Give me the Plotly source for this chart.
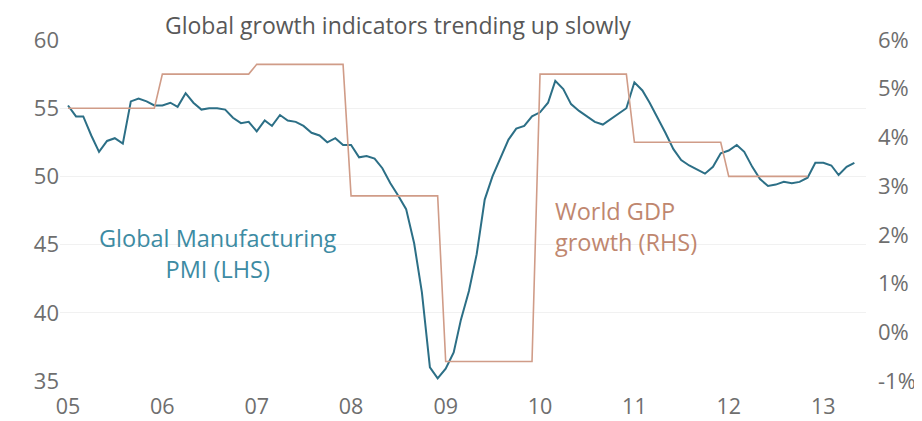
import plotly.graph_objects as go
import pandas as pd

# ---- data ----
pmi_start = "2005-01-01"
pmi_values = [
    55.2, 54.4, 54.4, 53.0, 51.8, 52.6, 52.8, 52.4, 55.5, 55.7, 55.5, 55.2,   # 2005
    55.2, 55.4, 55.1, 56.1, 55.4, 54.9, 55.0, 55.0, 54.9, 54.3, 53.9, 54.0,   # 2006
    53.3, 54.1, 53.7, 54.5, 54.1, 54.0, 53.7, 53.2, 53.0, 52.5, 52.8, 52.3,   # 2007
    52.3, 51.4, 51.5, 51.3, 50.6, 49.5, 48.6, 47.6, 45.1, 41.5, 36.0, 35.2,   # 2008
    35.9, 37.1, 39.5, 41.6, 44.3, 48.3, 50.0, 51.3, 52.7, 53.5, 53.7, 54.4,   # 2009
    54.7, 55.4, 57.0, 56.4, 55.3, 54.8, 54.4, 54.0, 53.8, 54.2, 54.6, 55.0,   # 2010
    56.9, 56.3, 55.4, 54.3, 53.2, 52.0, 51.2, 50.8, 50.5, 50.2, 50.7, 51.7,   # 2011
    51.9, 52.3, 51.8, 50.7, 49.8, 49.3, 49.4, 49.6, 49.5, 49.6, 49.9, 51.0,   # 2012
    51.0, 50.8, 50.1, 50.7, 51.0,                                             # 2013
]

gdp_years = [2005, 2006, 2007, 2008, 2009, 2010, 2011, 2012]
gdp_growth = [4.6, 5.3, 5.5, 2.8, -0.6, 5.3, 3.9, 3.2]
gdp_last_month = "2012-11-01"

x_tick_dates = ["2005-01-01", "2006-01-01", "2007-01-01", "2008-01-01", "2009-01-01",
                "2010-01-01", "2011-01-01", "2012-01-01", "2013-01-01"]
x_tick_labels = ["05", "06", "07", "08", "09", "10", "11", "12", "13"]
left_ticks = [35, 40, 45, 50, 55, 60]
right_ticks = [-1, 0, 1, 2, 3, 4, 5, 6]
right_tick_labels = ["-1%", "0%", "1%", "2%", "3%", "4%", "5%", "6%"]

title_text = "Global growth indicators trending up slowly"
pmi_label = "Global Manufacturing<br>PMI (LHS)"
gdp_label = "World GDP<br>growth (RHS)"

# ---- build series ----
pmi_dates = pd.date_range(pmi_start, periods=len(pmi_values), freq="MS")
gdp_dates = pd.date_range(f"{gdp_years[0]}-01-01", gdp_last_month, freq="MS")
gdp_map = dict(zip(gdp_years, gdp_growth))
gdp_monthly = [gdp_map[d.year] for d in gdp_dates]

PMI_COL = "#2c6f86"
GDP_COL = "#d09c88"
PMI_TXT = "#3d8ba3"
GDP_TXT = "#bf876f"
TICK_COL = "#6e6e6e"
FONT = "Open Sans"

# page body has an 8px margin -> figure is drawn 8px in from the window's top-left
OFF = 8
W, H = 922 - OFF, 421 - OFF
# plot area in window pixels (from the reference)
PL, PR, PT, PB = 60, 866, 40, 381
L, R, T, B = PL - OFF, W - (PR - OFF), PT - OFF, H - (PB - OFF)
pw, ph = PR - PL, PB - PT


def px(xr):
    return (xr - PL) / pw


def py(yr):
    return (PB - yr) / ph


fig = go.Figure()
fig.add_trace(go.Scatter(x=gdp_dates, y=gdp_monthly, mode="lines", yaxis="y2",
                         line=dict(color=GDP_COL, width=1.6), showlegend=False))
fig.add_trace(go.Scatter(x=pmi_dates, y=pmi_values, mode="lines",
                         line=dict(color=PMI_COL, width=2), showlegend=False))

fig.update_layout(
    width=W, height=H,
    margin=dict(l=L, r=R, t=T, b=B, autoexpand=False),
    paper_bgcolor="white", plot_bgcolor="white",
    font=dict(family=FONT, color=TICK_COL),
    xaxis=dict(type="date", range=["2004-12-01", "2013-06-15"],
               tickvals=x_tick_dates, ticktext=x_tick_labels,
               showgrid=False, zeroline=False, showline=False, ticks="",
               ticklabelstandoff=10, tickfont=dict(size=21.5, color=TICK_COL)),
    yaxis=dict(range=[35, 60], tickvals=left_ticks, showgrid=True,
               gridcolor="#f1f1f1", gridwidth=1, zeroline=False, showline=False,
               ticks="", ticklabelstandoff=0, tickfont=dict(size=22, color=TICK_COL)),
    yaxis2=dict(range=[-1, 6], tickvals=right_ticks, ticktext=right_tick_labels,
                overlaying="y", side="right", showgrid=False, zeroline=False,
                showline=False, ticks="", ticklabelstandoff=11,
                tickfont=dict(size=22, color=TICK_COL)),
)

ann = [
    dict(text=title_text, x=px(398), y=py(25), xanchor="center", yanchor="middle",
         font=dict(size=23, color="#585858")),
    dict(text=pmi_label, x=px(218), y=py(253), xanchor="center", yanchor="middle",
         align="center", font=dict(size=23.5, color=PMI_TXT)),
    dict(text=gdp_label, x=px(553), y=py(226), xanchor="left", yanchor="middle",
         align="left", font=dict(size=23.5, color=GDP_TXT)),
]
for a in ann:
    a.update(xref="paper", yref="paper", showarrow=False)
fig.update_layout(annotations=ann)

fig.write_html("out.html")
